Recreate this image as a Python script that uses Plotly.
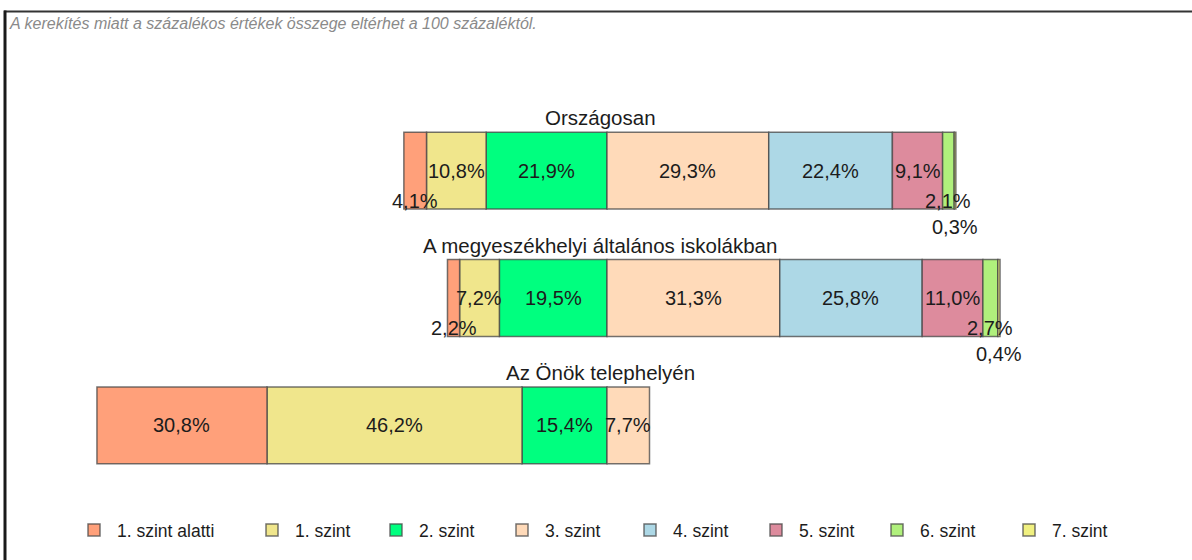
import plotly.graph_objects as go

groups = ["Országosan", "A megyeszékhelyi általános iskolákban", "Az Önök telephelyén"]
levels = ["1. szint alatti", "1. szint", "2. szint", "3. szint", "4. szint", "5. szint", "6. szint", "7. szint"]
colors = ["#FFA07A", "#F0E68C", "#00FF7F", "#FFDAB9", "#ADD8E6", "#DD8B9D", "#B0F07C", "#F0F080"]

v_below1 = [4.1, 2.2, 30.8]
v_l1 = [10.8, 7.2, 46.2]
v_l2 = [21.9, 19.5, 15.4]
v_l3 = [29.3, 31.3, 7.7]
v_l4 = [22.4, 25.8, 0]
v_l5 = [9.1, 11.0, 0]
v_l6 = [2.1, 2.7, 0]
v_l7 = [0.3, 0.4, 0]

series = [v_below1, v_l1, v_l2, v_l3, v_l4, v_l5, v_l6, v_l7]
negative = [True, True, True, False, False, False, False, False]

note = "A kerekítés miatt a százalékos értékek összege eltérhet a 100 százaléktól."

W, H = 1192, 560
FONT = "Liberation Sans, Arial, sans-serif"
TXT = "#1c1c1c"
PLOT_TOP, PLOT_BOT = 107, 489
ZERO_PX, PX_PER_PCT = 607, 5.52
legend_centers = [94, 272, 396, 522, 650, 776, 897, 1029]


def py(p):
    return (PLOT_BOT - p) / (PLOT_BOT - PLOT_TOP)


fig = go.Figure()

# negative-side traces added from the zero line outward (2, 1, below 1), then positive side
order = [2, 1, 0, 3, 4, 5, 6, 7]
for i in order:
    vals = series[i]
    xs = [(-v if negative[i] else v) if v else None for v in vals]
    fig.add_trace(go.Bar(
        y=groups, x=xs, orientation="h", name=levels[i],
        legend="legend" if i == 0 else f"legend{i + 1}",
        marker=dict(color=colors[i], line=dict(color="rgba(70,70,70,0.75)", width=1.5)),
        hoverinfo="skip",
    ))

# labels at segment centres, computed from the data
annotations = []
for g, grp in enumerate(groups):
    left_total = sum(series[i][g] for i in range(8) if negative[i])
    pos = -left_total
    for i in range(8):
        v = series[i][g]
        if not v:
            continue
        center = pos + v / 2
        pos += v
        if v < 1:
            ys = -56
        elif v < 5:
            ys = -30
        else:
            ys = 0
        annotations.append(dict(
            x=center, y=grp, xref="x", yref="y", text=f"{v:.1f}%".replace(".", ","),
            showarrow=False, yshift=ys, font=dict(family=FONT, size=20, color=TXT),
        ))
    annotations.append(dict(
        x=600 / W, y=grp, xref="paper", yref="y", text=grp, showarrow=False,
        yshift=53, font=dict(family=FONT, size=20.5, color=TXT),
    ))

annotations.append(dict(
    x=7 / W, y=py(24), xref="paper", yref="paper", text="<i>" + note + "</i>",
    showarrow=False, xanchor="left", yanchor="middle",
    font=dict(family=FONT, size=16, color="#8a8a8a"),
))

shapes = [
    dict(type="line", xref="paper", yref="paper", x0=4 / W, x1=1.01,
         y0=py(11.5), y1=py(11.5), line=dict(color="#333", width=2)),
    dict(type="line", xref="paper", yref="paper", x0=5 / W, x1=5 / W,
         y0=py(10.5), y1=py(580), line=dict(color="#1a1a1a", width=3)),
]

legends = {}
for i in range(8):
    key = "legend" if i == 0 else f"legend{i + 1}"
    legends[key] = dict(
        orientation="h", x=(legend_centers[i] - 23) / W, xanchor="left",
        xref="container", yref="container", y=1 - 530 / H, yanchor="middle",
        font=dict(family=FONT, size=17.5, color=TXT), itemwidth=36,
        bgcolor="rgba(0,0,0,0)", borderwidth=0,
    )

fig.update_layout(
    width=W, height=H,
    barmode="relative", bargap=0.396,
    plot_bgcolor="white", paper_bgcolor="white",
    margin=dict(l=0, r=0, t=PLOT_TOP, b=H - PLOT_BOT, autoexpand=False),
    xaxis=dict(range=[-ZERO_PX / PX_PER_PCT, (W - ZERO_PX) / PX_PER_PCT], visible=False, fixedrange=True),
    yaxis=dict(categoryorder="array", categoryarray=groups, range=[2.5, -0.5],
               visible=False, fixedrange=True),
    showlegend=True,
    annotations=annotations, shapes=shapes,
    **legends,
)

fig.write_html("out.html", config={"displayModeBar": False},
               post_script="document.body.style.margin='0';")
